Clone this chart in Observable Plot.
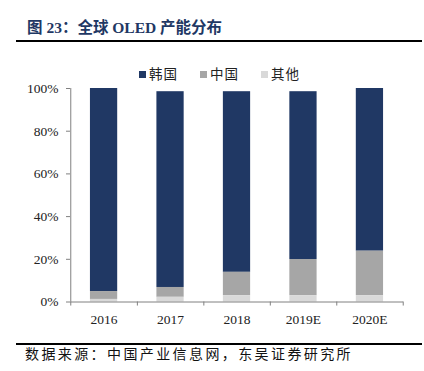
<!DOCTYPE html>
<html>
<head>
<meta charset="utf-8">
<script src="https://cdn.jsdelivr.net/npm/d3@7"></script>
<script src="https://cdn.jsdelivr.net/npm/@observablehq/plot@0.6"></script>
<style>
  body { margin: 0; background: #fff; }
  #wrap { position: relative; width: 424px; height: 371px; overflow: hidden; background: #fff; }
  #title { position: absolute; left: 27px; top: 15px; font: bold 15.5px "Liberation Serif", "Noto Sans CJK SC", serif; color: #1f3864; white-space: nowrap; }
  .hr { position: absolute; left: 16px; width: 406px; height: 2px; background: #000; }
  #legend { position: absolute; top: 63px; left: 0; width: 424px; height: 18px; font: 13.5px "Noto Sans CJK SC", sans-serif; color: #222; letter-spacing: 1px; }
  .li { position: absolute; top: 0; white-space: nowrap; }
  .sw { display: inline-block; width: 7px; height: 7px; margin-right: 3px; vertical-align: 1px; }
  #chart { position: absolute; left: 0; top: 60px; }
  #source { position: absolute; left: 25px; top: 343px; font: 14px "Noto Sans CJK SC", sans-serif; letter-spacing: 2.4px; color: #111; white-space: nowrap; }
</style>
</head>
<body>
<div id="wrap">
  <div id="title">图 23：全球 OLED 产能分布</div>
  <div class="hr" style="top:40px"></div>
  <div id="legend"></div>
  <div id="chart"></div>
  <div class="hr" style="top:343px"></div>
  <div id="source">数据来源：中国产业信息网，东吴证券研究所</div>
</div>
<script>
const years = ["2016", "2017", "2018", "2019E", "2020E"];
const seriesNames = ["韩国", "中国", "其他"];
const korea = [95.1, 91.7, 84.6, 78.6, 76.2];
const china = [3.7, 4.6, 10.9, 16.9, 20.8];
const other = [1.2, 2.2, 3.0, 3.0, 3.0];
const yTicks = [0, 20, 40, 60, 80, 100];
const colors = ["#203864", "#a6a6a6", "#d9d9d9"];

const seriesValues = [korea, china, other];
const rows = [];
years.forEach((yr, i) => {
  seriesNames.forEach((s, j) => rows.push({year: yr, series: s, value: seriesValues[j][i]}));
});

// legend
const legend = document.getElementById("legend");
const legendX = [139, 200, 261];
seriesNames.forEach((s, j) => {
  const d = document.createElement("div");
  d.className = "li";
  d.style.left = legendX[j] + "px";
  d.innerHTML = `<span class="sw" style="background:${colors[j]}"></span>${s}`;
  legend.appendChild(d);
});

const serif = "'Liberation Serif', 'Times New Roman', serif";
const half = 333 / 5 / 2;

const chart = Plot.plot({
  width: 424,
  height: 275,
  marginLeft: 70,
  marginRight: 21,
  marginTop: 28,
  marginBottom: 33.5,
  style: {fontFamily: serif, fontSize: "13.5px", color: "#222", background: "transparent"},
  x: {domain: years, paddingInner: 0.59, paddingOuter: 0.3, round: false, label: null},
  y: {domain: [0, 100], label: null},
  color: {domain: seriesNames, range: colors},
  marks: [
    Plot.barY(rows, {x: "year", y: "value", fill: "series", order: ["其他", "中国", "韩国"]}),
    Plot.ruleY([0], {stroke: "#808080", strokeWidth: 1}),
    Plot.ruleX([years[0]], {x: d => d, dx: -half, y1: 0, y2: 100, stroke: "#808080", strokeWidth: 1}),
    Plot.ruleX(years, {x: d => d, dx: half, y1: 0, y2: -1.9, stroke: "#808080", strokeWidth: 1}),
    Plot.ruleX([years[0]], {x: d => d, dx: -half, y1: 0, y2: -1.9, stroke: "#808080", strokeWidth: 1}),
    Plot.axisY({ticks: yTicks, tickFormat: d => d + "%", tickSize: 4, tickPadding: 8, stroke: "#808080", fontSize: 13.5, fill: "#222"}),
    Plot.axisX({tickSize: 0, tickPadding: 12, fontSize: 13.5, fill: "#222"})
  ]
});
document.getElementById("chart").appendChild(chart);
</script>
</body>
</html>
